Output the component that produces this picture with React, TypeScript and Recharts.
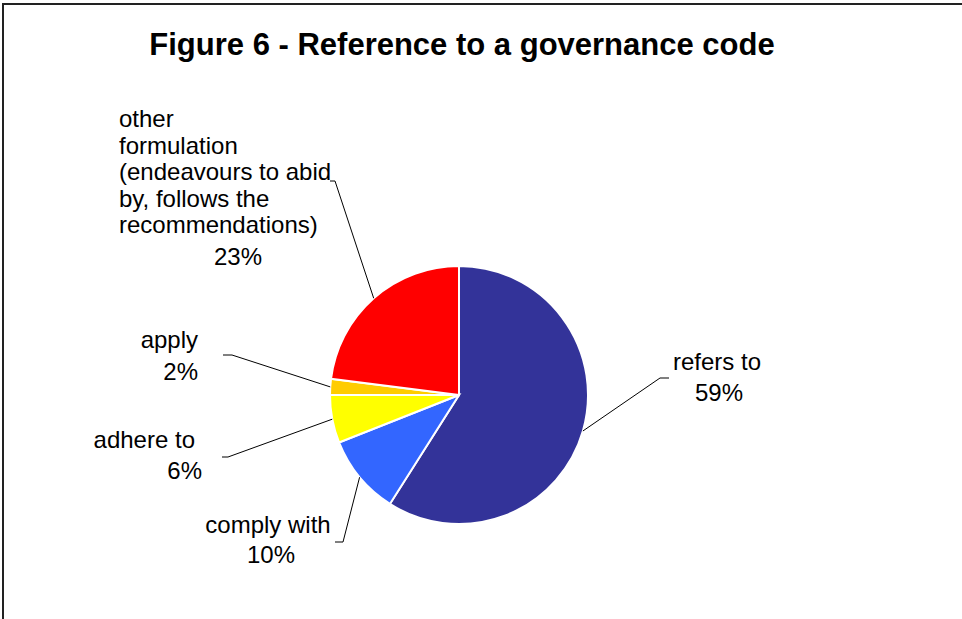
import { PieChart, Pie, Cell } from 'recharts'

const categories = ['refers to', 'comply with', 'adhere to', 'apply', 'other formulation (endeavours to abid by, follows the recommendations)']
const shares = [59, 10, 6, 2, 23]
const sliceColors = ['#333399', '#3366FF', '#FFFF00', '#FFCC00', '#FF0000']

const data = categories.map((name, i) => ({ name, value: shares[i] }))

// label placement relative to pie centre: elbow point, tick end, text lines
type Line = { text: string; dx: number; dy: number; anchor: 'start' | 'middle' | 'end' }
const LABEL_LAYOUT: { elbow: [number, number]; tick: number; lines: (v: number) => Line[] }[] = [
  {
    elbow: [201, -17], tick: 210,
    lines: (v) => [
      { text: 'refers to', dx: 258, dy: -25, anchor: 'middle' },
      { text: `${v}%`, dx: 260, dy: 6, anchor: 'middle' }
    ]
  },
  {
    elbow: [-116, 147], tick: -124,
    lines: (v) => [
      { text: 'comply with', dx: -191, dy: 138, anchor: 'middle' },
      { text: `${v}%`, dx: -188, dy: 168, anchor: 'middle' }
    ]
  },
  {
    elbow: [-231, 62], tick: -237,
    lines: (v) => [
      { text: 'adhere to', dx: -264, dy: 53, anchor: 'end' },
      { text: `${v}%`, dx: -257, dy: 84, anchor: 'end' }
    ]
  },
  {
    elbow: [-227, -40], tick: -236,
    lines: (v) => [
      { text: 'apply', dx: -261, dy: -47, anchor: 'end' },
      { text: `${v}%`, dx: -261, dy: -15, anchor: 'end' }
    ]
  },
  {
    elbow: [-124, -214], tick: -129,
    lines: (v) => [
      { text: 'other', dx: -340, dy: -268, anchor: 'start' },
      { text: 'formulation', dx: -340, dy: -241, anchor: 'start' },
      { text: '(endeavours to abid', dx: -340, dy: -215, anchor: 'start' },
      { text: 'by, follows the', dx: -340, dy: -188, anchor: 'start' },
      { text: 'recommendations)', dx: -340, dy: -162, anchor: 'start' },
      { text: `${v}%`, dx: -221, dy: -130, anchor: 'middle' }
    ]
  }
]

const RAD = Math.PI / 180

function SliceLabel(props: any) {
  const { cx, cy, midAngle, outerRadius, index, value } = props
  const lay = LABEL_LAYOUT[index]
  const px = cx + outerRadius * Math.cos(-midAngle * RAD)
  const py = cy + outerRadius * Math.sin(-midAngle * RAD)
  const ex = cx + lay.elbow[0]
  const ey = cy + lay.elbow[1]
  const tx = cx + lay.tick
  return (
    <g>
      <polyline points={`${px},${py} ${ex},${ey} ${tx},${ey}`} fill="none" stroke="#000" strokeWidth={1} />
      {lay.lines(value).map((l, i) => (
        <text key={i} x={cx + l.dx} y={cy + l.dy} textAnchor={l.anchor} fill="#000"
          fontFamily="'Liberation Sans', Arial, sans-serif" fontSize={24}>
          {l.text}
        </text>
      ))}
    </g>
  )
}

export default function App() {
  return (
    <div style={{ position: 'absolute', left: 0, top: 0, width: 962, height: 619, overflow: 'hidden', background: '#fff' }}>
      <div style={{ position: 'absolute', left: 2, top: 3, width: 1100, height: 800, border: '2px solid #222' }} />
      <div style={{
        position: 'absolute', left: 0, top: 29, width: 924, textAlign: 'center',
        fontFamily: "'Liberation Sans', Arial, sans-serif", fontWeight: 'bold', fontSize: 31, lineHeight: '31px', color: '#000'
      }}>
        Figure 6 - Reference to a governance code
      </div>
      <div style={{ position: 'absolute', left: 0, top: 0 }}>
        <PieChart width={962} height={619} margin={{ top: 0, right: 0, bottom: 0, left: 0 }}>
          <Pie
            data={data}
            dataKey="value"
            nameKey="name"
            cx={459}
            cy={395}
            outerRadius={129}
            startAngle={90}
            endAngle={-270}
            stroke="#fff"
            strokeWidth={2}
            label={SliceLabel}
            labelLine={false}
            isAnimationActive={false}
          >
            {data.map((d, i) => (
              <Cell key={d.name} fill={sliceColors[i]} />
            ))}
          </Pie>
        </PieChart>
      </div>
    </div>
  )
}
